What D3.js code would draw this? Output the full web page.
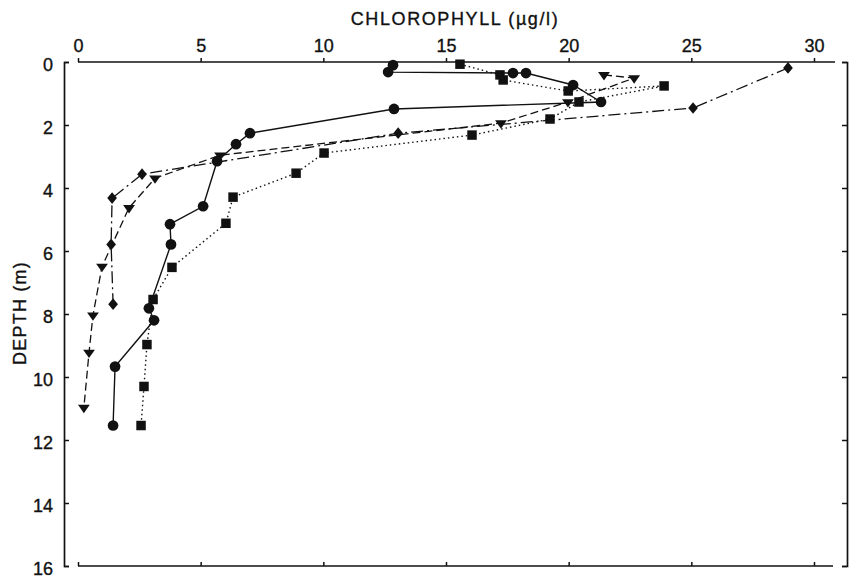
<!DOCTYPE html>
<html>
<head>
<meta charset="utf-8">
<script src="https://cdn.jsdelivr.net/npm/d3@7"></script>
<style>
  body { margin: 0; background: #fff; }
  text { font-family: 'Liberation Sans', Arial, sans-serif; fill: #111; }
</style>
</head>
<body>
<div class="chart-holder"></div>
<script>
let width = 850
let height = 579

// chlorophyll (ug/l) vs depth (m)
let circleChl = [12.84, 12.64, 17.73, 18.26, 20.18, 21.32, 12.88, 7.01, 6.44, 5.67, 5.10, 3.75, 3.79, 2.89, 3.10, 1.51, 1.43]
let circleDepth = [0.10, 0.32, 0.35, 0.35, 0.73, 1.27, 1.49, 2.26, 2.61, 3.15, 4.58, 5.15, 5.79, 7.82, 8.20, 9.67, 11.54]

let squareChl = [15.57, 17.20, 17.33, 19.98, 23.89, 20.42, 19.24, 16.06, 10.03, 8.89, 6.32, 6.03, 3.83, 3.06, 2.81, 2.69, 2.57]
let squareDepth = [0.07, 0.41, 0.57, 0.92, 0.76, 1.27, 1.81, 2.32, 2.89, 3.53, 4.29, 5.12, 6.52, 7.54, 8.97, 10.30, 11.54]

let diamondChl = [28.94, 25.07, 13.05, 2.61, 1.39, 1.35, 1.43]
let diamondDepth = [0.19, 1.46, 2.26, 3.56, 4.32, 5.79, 7.69]

let triangleChl = [21.44, 22.67, 19.97, 17.24, 5.79, 3.14, 2.08, 0.98, 0.61, 0.45, 0.24]
let triangleDepth = [0.41, 0.51, 1.27, 1.94, 2.96, 3.69, 4.63, 6.49, 8.04, 9.22, 10.97]

let xTicks = [0, 5, 10, 15, 20, 25, 30]
let yTicks = [0, 2, 4, 6, 8, 10, 12, 14, 16]

let x = d3.scaleLinear().domain([0, 30]).range([78, 814])
let y = d3.scaleLinear().domain([0, 16]).range([62, 566])

let svg = d3.select('.chart-holder')
    .append('svg')
        .attr('width', width)
        .attr('height', height)

let ink = '#111'
let font = "'Liberation Sans', Arial, sans-serif"

function styleLabels(sel) {
    sel.attr('fill', ink)
        .attr('stroke', ink).attr('stroke-width', 0.35)
        .style('font-size', '18px').style('font-family', font)
}

// top axis (labelled)
let topAxis = svg.append('g')
    .attr('transform', 'translate(0,' + y(0) + ')')
    .call(d3.axisTop(x).tickValues(xTicks).tickFormat(d3.format('d'))
        .tickSize(4).tickSizeOuter(0).tickPadding(6))
topAxis.select('.domain').remove()
topAxis.append('line')
    .attr('x1', x(0)).attr('x2', x(30) + 21)
    .attr('stroke', ink).attr('stroke-width', 1.7)
topAxis.selectAll('.tick line').attr('stroke', ink).attr('stroke-width', 1.5)
topAxis.selectAll('.tick text').call(styleLabels)

// bottom axis (ticks only, pointing inward)
let bottomAxis = svg.append('g')
    .attr('transform', 'translate(0,' + y(16) + ')')
    .call(d3.axisBottom(x).tickValues(xTicks).tickFormat('')
        .tickSize(-4).tickSizeOuter(0))
bottomAxis.select('.domain').remove()
bottomAxis.append('line')
    .attr('x1', x(0)).attr('x2', x(30) + 19)
    .attr('stroke', ink).attr('stroke-width', 1.7)
bottomAxis.selectAll('.tick line').attr('stroke', ink).attr('stroke-width', 1.5)

// left axis (labelled, ticks inward)
let leftAxis = svg.append('g')
    .attr('transform', 'translate(64,0)')
    .call(d3.axisLeft(y).tickValues(yTicks).tickFormat(d3.format('d'))
        .tickSizeInner(-5).tickSizeOuter(-5).tickPadding(11))
leftAxis.select('.domain').attr('stroke', ink).attr('stroke-width', 1.7)
leftAxis.selectAll('.tick line').attr('stroke', ink).attr('stroke-width', 1.5)
leftAxis.selectAll('.tick text').call(styleLabels).attr('dy', '0.45em')

// right axis (ticks only, inward)
let rightAxis = svg.append('g')
    .attr('transform', 'translate(847,0)')
    .call(d3.axisRight(y).tickValues(yTicks).tickFormat('')
        .tickSizeInner(-5).tickSizeOuter(-5))
rightAxis.select('.domain').attr('stroke', ink).attr('stroke-width', 1.7)
rightAxis.selectAll('.tick line').attr('stroke', ink).attr('stroke-width', 1.5)

// axis titles
svg.append('text')
    .attr('x', 455).attr('y', 25)
    .attr('text-anchor', 'middle')
    .style('letter-spacing', '1.6px')
    .call(styleLabels)
    .text('CHLOROPHYLL (µg/l)')

svg.append('text')
    .attr('transform', 'translate(26,' + 313 + ') rotate(-90)')
    .attr('text-anchor', 'middle')
    .style('letter-spacing', '1.2px')
    .call(styleLabels)
    .text('DEPTH (m)')

let line = d3.line().x(d => x(d[0])).y(d => y(d[1]))

function profile(chl, depth) {
    return chl.map((c, i) => [c, depth[i]])
}

let series = [
    { key: 'circle', data: profile(circleChl, circleDepth), dash: null, width: 1.4 },
    { key: 'square', data: profile(squareChl, squareDepth), dash: '1.5,3', width: 1.4 },
    { key: 'diamond', data: profile(diamondChl, diamondDepth), dash: '12,4,2,4', width: 1.3 },
    { key: 'triangle', data: profile(triangleChl, triangleDepth), dash: '8,4', width: 1.3 }
]

let plot = svg.append('g').attr('class', 'plot')

plot.selectAll('path.profile')
    .data(series)
    .enter()
    .append('path').attr('class', 'profile')
        .attr('d', d => line(d.data))
        .attr('fill', 'none')
        .attr('stroke', ink)
        .attr('stroke-width', d => d.width)
        .attr('stroke-dasharray', d => d.dash)

let symbols = {
    circle: { path: d3.symbol().type(d3.symbolCircle).size(90)(), extra: '' },
    square: { path: d3.symbol().type(d3.symbolSquare).size(90)(), extra: '' },
    diamond: { path: d3.symbol().type(d3.symbolSquare).size(52)(), extra: ' scale(0.95,1.15) rotate(45)' },
    triangle: { path: d3.symbol().type(d3.symbolTriangle).size(50)(), extra: ' rotate(180) scale(1.1,0.9)' }
}

series.forEach(s => {
    plot.append('g').attr('class', s.key)
        .selectAll('path')
        .data(s.data)
        .enter()
        .append('path')
            .attr('d', symbols[s.key].path)
            .attr('transform', d => 'translate(' + x(d[0]) + ',' + y(d[1]) + ')' + symbols[s.key].extra)
            .attr('fill', ink)
})
</script>
</body>
</html>
